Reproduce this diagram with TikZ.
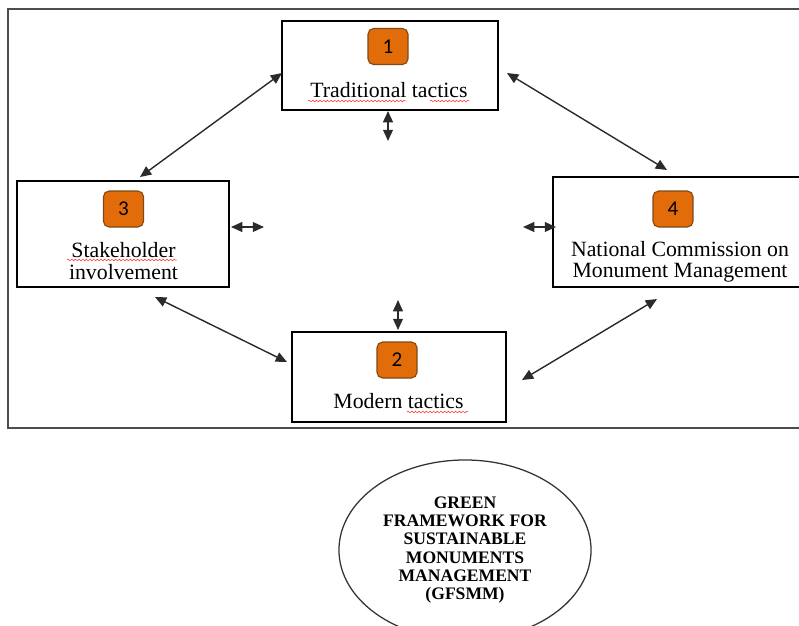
\documentclass[tikz,border=0pt]{standalone}
\usepackage{fontspec}
\setmainfont{Liberation Serif}
\newfontfamily\badgefont{Carlito}
\usetikzlibrary{arrows.meta}
\usetikzlibrary{shapes.geometric}
\usetikzlibrary{decorations.pathmorphing}
\definecolor{badgeorange}{HTML}{E36C0A}
\definecolor{badgeline}{HTML}{7F4A14}
\definecolor{framegray}{HTML}{4D4D4D}
\definecolor{arrowgray}{HTML}{2B2B2B}

\begin{document}
\begin{tikzpicture}[x=0.025cm,y=-0.025cm,
    box/.style={draw=black,line width=0.9pt,inner sep=0pt},
    badge/.style={draw=badgeline,fill=badgeorange,rounded corners=4pt,line width=0.8pt,
      minimum width=1cm,minimum height=0.9cm,inner sep=0pt,
      font=\badgefont\fontsize{15pt}{17pt}\selectfont},
    lbl/.style={inner sep=0pt,align=center,font=\fontsize{15.5pt}{15pt}\selectfont},
    link/.style={{Triangle[length=8pt,width=7pt]}-{Triangle[length=8pt,width=7pt]},
      draw=arrowgray,line width=1pt},
    squiggle/.style={draw=red!85!white,line width=0.35pt,decorate,
      decoration={snake,amplitude=0.6pt,segment length=2.6pt}}]
  \useasboundingbox (0,0) rectangle (799,625);
  \clip (0,0) rectangle (799,625);
  \draw [framegray,line width=1.4pt] (799,9) -- (8,9) -- (8,428) -- (799,428);

  \node [box,minimum width=5.4cm,minimum height=2.225cm] (trad) at (390,65.5) {};
  \node [badge] (b1) at (388,46.5) {1};
  \node [lbl,anchor=base] (t1) at (389,97) {Traditional tactics};

  \node [box,minimum width=5.3cm,minimum height=2.65cm] (stake) at (123,234) {};
  \node [badge] (b3) at (123.5,209) {3};
  \node [lbl] (t3) at (123.5,261) {Stakeholder\\involvement};

  \node [box,minimum width=6.425cm,minimum height=2.75cm] (natc) at (681.5,232) {};
  \node [badge] (b4) at (673,209) {4};
  \node [lbl] (t4) at (680,262) {National Commission on\\Monument Management};

  \node [box,minimum width=5.35cm,minimum height=2.25cm] (modern) at (399,377) {};
  \node [badge] (b2) at (397,360) {2};
  \node [lbl,anchor=base] (t2) at (398.5,408) {Modern tactics};

  \coordinate (p1) at (282,73);
  \coordinate (q1) at (140,177);
  \draw [link] (p1) -- (q1);
  \coordinate (p2) at (507,73);
  \coordinate (q2) at (667,170);
  \draw [link] (p2) -- (q2);
  \coordinate (p3) at (155,297);
  \coordinate (q3) at (287,362);
  \draw [link] (p3) -- (q3);
  \coordinate (p4) at (522,380);
  \coordinate (q4) at (657,299);
  \draw [link] (p4) -- (q4);

  \coordinate (p5) at (388,111);
  \coordinate (q5) at (388,141);
  \draw [link] (p5) -- (q5);
  \coordinate (p6) at (398,300);
  \coordinate (q6) at (398,330);
  \draw [link] (p6) -- (q6);
  \coordinate (p7) at (231,227);
  \coordinate (q7) at (264,227);
  \draw [link] (p7) -- (q7);
  \coordinate (p8) at (523,227);
  \coordinate (q8) at (556,227);
  \draw [link] (p8) -- (q8);

  \draw [squiggle] (308,101) -- (407,101);
  \draw [squiggle] (430,101) -- (470,101);
  \draw [squiggle] (67,260) -- (177,260);
  \draw [squiggle] (407,412) -- (468,412);

  \node [ellipse,draw=black!80,line width=0.9pt,minimum width=6.3cm,minimum height=4.5cm,
    inner sep=0pt,align=center,font=\bfseries\fontsize{12.5pt}{13pt}\selectfont]
    (gf) at (465,550) {GREEN\\FRAMEWORK FOR\\SUSTAINABLE\\MONUMENTS\\MANAGEMENT\\(GFSMM)};
\end{tikzpicture}
\end{document}
